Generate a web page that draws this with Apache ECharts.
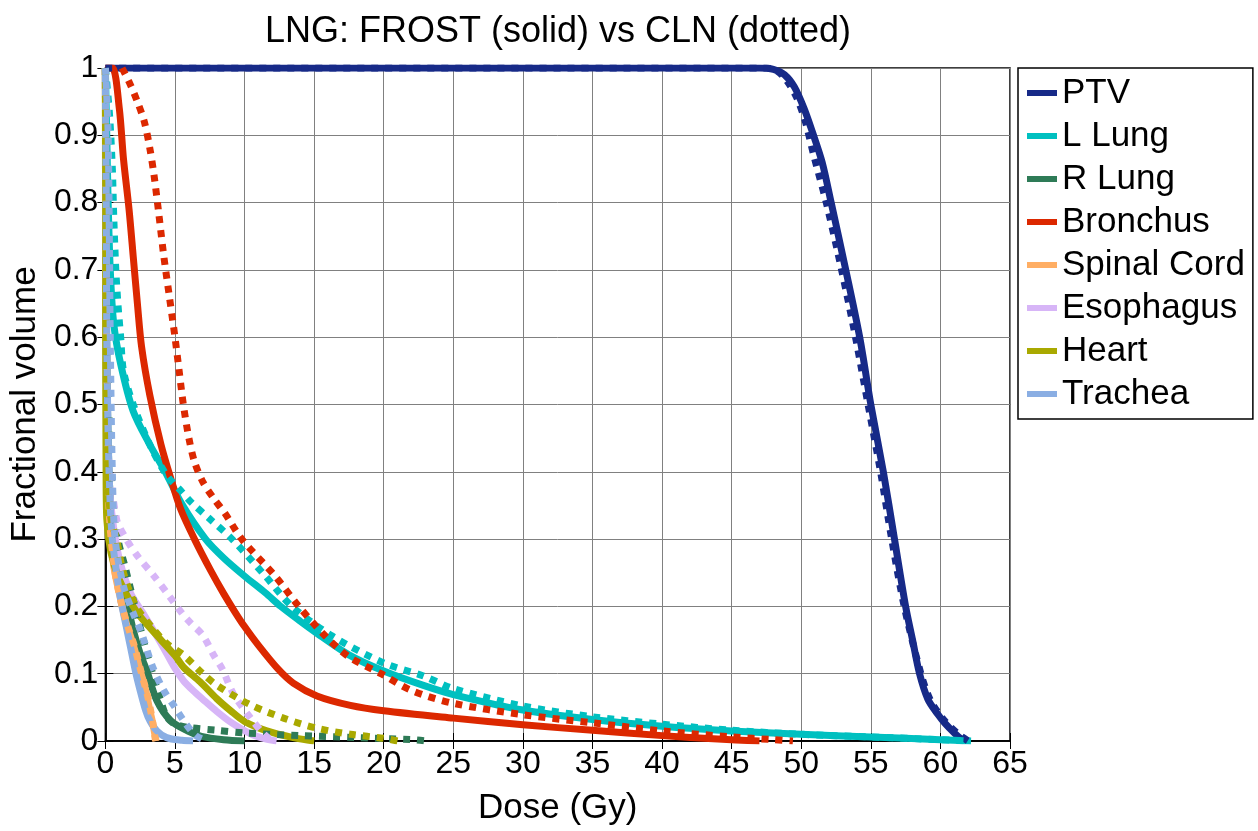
<!DOCTYPE html>
<html>
<head>
<meta charset="utf-8">
<script src="https://cdn.jsdelivr.net/npm/echarts@6/dist/echarts.min.js"></script>
<style>
html,body{margin:0;padding:0;background:#fff;}
#chart{width:1258px;height:831px;}
</style>
</head>
<body>
<div id="chart"></div>
<script>
// ---- Data (dose Gy, fractional volume) ----
const organNames = ['PTV','L Lung','R Lung','Bronchus','Spinal Cord','Esophagus','Heart','Trachea'];
const organColors = ['#172a88','#00c0c0','#2e7b57','#dc2800','#ffae64','#d7b5f7','#a9a900','#8aaee3'];

const xTicks = [0,5,10,15,20,25,30,35,40,45,50,55,60,65];
const yTicks = [0,0.1,0.2,0.3,0.4,0.5,0.6,0.7,0.8,0.9,1];

// FROST (solid)
const ptvSolid = [[0,1],[47,1],[48,0.998],[48.8,0.99],[49.5,0.972],[50.2,0.94],[50.8,0.905],[51.5,0.86],[52.15,0.8],[53.2,0.7],[54.2,0.6],[55,0.5],[55.9,0.4],[56.7,0.3],[57.5,0.2],[58,0.15],[58.5,0.1],[59.1,0.062],[59.8,0.04],[60.3,0.027],[61,0.012],[61.5,0.003],[61.8,0]];
const lLungSolid = [[0,1],[0.1,0.9],[0.2,0.8],[0.35,0.7],[0.6,0.62],[1.1,0.56],[2,0.49],[3.2,0.44],[4.3,0.4],[5.5,0.352],[7.2,0.3],[8.5,0.272],[10,0.245],[11.5,0.22],[12.6,0.2],[14,0.178],[15.2,0.16],[17.5,0.128],[20,0.104],[22.8,0.083],[25,0.069],[30,0.046],[35,0.032],[40,0.022],[45,0.015],[50,0.01],[55,0.006],[60,0.002],[62.2,0]];
const rLungSolid = [[0,1],[0.05,0.7],[0.15,0.5],[0.3,0.38],[0.6,0.3],[1.1,0.24],[1.5,0.21],[2,0.165],[2.5,0.13],[3,0.103],[3.7,0.06],[4.7,0.03],[5.9,0.015],[6.9,0.007],[8.5,0.002],[10,0]];
const bronchusSolid = [[0,1],[0.5,1],[1.0,0.94],[1.3,0.865],[1.7,0.79],[2.0,0.72],[2.3,0.65],[2.6,0.586],[3.2,0.513],[4.0,0.44],[4.7,0.39],[5.4,0.345],[6.4,0.3],[7.6,0.252],[8.5,0.219],[9.3,0.192],[10,0.17],[11,0.142],[12.4,0.107],[13.5,0.086],[15.2,0.067],[17.6,0.053],[20,0.045],[25,0.034],[30,0.024],[35,0.016],[40,0.008],[44,0.003],[47,0]];
const cordSolid = [[0,1],[0.05,0.7],[0.15,0.45],[0.3,0.33],[0.6,0.26],[1.1,0.21],[1.5,0.175],[2,0.143],[2.5,0.105],[2.9,0.075],[3.2,0.045],[3.4,0.027],[3.55,0.01],[3.65,0]];
const esophSolid = [[0,1],[0.05,0.6],[0.15,0.45],[0.4,0.35],[1,0.27],[1.8,0.22],[2.7,0.19],[4,0.145],[5,0.108],[5.6,0.09],[6.3,0.075],[7,0.062],[8,0.044],[9,0.028],[10.4,0.011],[11.5,0.003],[12.3,0]];
const heartSolid = [[0,1],[0.02,0.6],[0.05,0.4],[0.1,0.33],[0.4,0.28],[1,0.24],[2,0.2],[2.7,0.18],[4,0.15],[5,0.127],[5.6,0.11],[6.8,0.088],[8,0.063],[9,0.045],[10,0.029],[11.6,0.015],[13.5,0.005],[15,0]];
const tracheaSolid = [[0,1],[0.05,0.8],[0.1,0.6],[0.2,0.45],[0.35,0.35],[0.5,0.3],[0.8,0.25],[1.1,0.21],[1.5,0.17],[1.8,0.14],[2.2,0.1],[2.5,0.075],[2.9,0.045],[3.2,0.03],[3.7,0.015],[4.4,0.005],[5.5,0.001],[6.3,0]];

// CLN (dotted)
const ptvDotted = [[0,1],[47.5,1],[48.3,0.995],[49,0.98],[49.7,0.955],[50.3,0.92],[50.9,0.87],[51.8,0.8],[52.9,0.7],[53.9,0.6],[54.8,0.5],[55.7,0.4],[56.5,0.3],[57.4,0.2],[58.6,0.1],[59.3,0.06],[60.3,0.03],[61.3,0.01],[62,0]];
const lLungDotted = [[0,1],[0.3,0.93],[0.5,0.85],[0.6,0.78],[0.75,0.7],[0.9,0.65],[1.1,0.6],[1.3,0.55],[2,0.5],[3.2,0.44],[4.4,0.395],[5.5,0.37],[6.2,0.354],[7.5,0.33],[9.1,0.3],[11.5,0.245],[13.4,0.2],[16.3,0.156],[20,0.116],[22.8,0.097],[25,0.078],[30,0.052],[35,0.036],[40,0.025],[45,0.016],[50,0.01],[55,0.006],[60,0.002],[62,0]];
const rLungDotted = [[0,1],[0.1,0.7],[0.25,0.5],[0.5,0.37],[0.9,0.3],[1.4,0.26],[2,0.21],[2.8,0.145],[3.4,0.1],[3.9,0.065],[4.4,0.036],[5,0.025],[6,0.02],[8,0.016],[10,0.012],[14,0.008],[18,0.005],[22,0.002],[23,0]];
const bronchusDotted = [[1.2,1],[1.8,0.975],[2.3,0.95],[2.8,0.92],[3.2,0.88],[3.5,0.84],[3.8,0.79],[4.2,0.72],[4.6,0.66],[5.0,0.6],[5.3,0.55],[5.6,0.5],[6.0,0.45],[6.4,0.415],[7,0.385],[7.8,0.36],[8.6,0.338],[9.8,0.3],[12.2,0.245],[13.9,0.2],[15.8,0.156],[17.5,0.125],[19.8,0.1],[22,0.075],[25,0.056],[30,0.039],[35,0.027],[40,0.015],[45,0.006],[48,0.002],[49.4,0]];
const cordDotted = [[0,1],[0.05,0.7],[0.15,0.45],[0.3,0.33],[0.7,0.25],[1.2,0.2],[1.7,0.165],[2.1,0.14],[2.6,0.1],[3,0.07],[3.3,0.04],[3.5,0.015],[3.6,0]];
const esophDotted = [[0,1],[0.1,0.6],[0.3,0.42],[0.8,0.33],[1.5,0.3],[2.3,0.275],[3.5,0.245],[4.6,0.215],[5.5,0.19],[6.1,0.176],[7,0.157],[7.8,0.127],[8.4,0.107],[9.2,0.07],[10.4,0.035],[11.4,0.01],[12,0]];
const heartDotted = [[0,1],[0.05,0.6],[0.15,0.4],[0.4,0.33],[0.8,0.3],[1.3,0.25],[2.2,0.2],[3.3,0.17],[4.4,0.145],[5.6,0.128],[7,0.1],[8,0.083],[10.4,0.054],[12.8,0.034],[15.2,0.019],[17.6,0.01],[20,0.004],[21,0]];
const tracheaDotted = [[0,1],[0.2,0.9],[0.35,0.6],[0.5,0.4],[0.7,0.3],[1.3,0.23],[2,0.19],[2.6,0.16],[3.4,0.11],[4.2,0.075],[5,0.05],[5.8,0.025],[6.5,0.008],[7.3,0]];

const solidData = [ptvSolid,lLungSolid,rLungSolid,bronchusSolid,cordSolid,esophSolid,heartSolid,tracheaSolid];
const dottedData = [ptvDotted,lLungDotted,rLungDotted,bronchusDotted,cordDotted,esophDotted,heartDotted,tracheaDotted];

const FONT = 'Liberation Sans, Arial, sans-serif';
const chart = echarts.init(document.getElementById('chart'), null, {renderer:'canvas'});

const series = [];
organNames.forEach((n,i)=>{
  series.push({name:n,type:'line',data:solidData[i],showSymbol:false,symbol:'none',smooth:0.3,
    lineStyle:{color:organColors[i],width:7,cap:'butt',join:'round'},itemStyle:{color:organColors[i]},z:2});
});
organNames.forEach((n,i)=>{
  series.push({name:n+' (CLN)',type:'line',data:dottedData[i],showSymbol:false,symbol:'none',smooth:0.3,
    lineStyle:{color:organColors[i],width:7,type:[7,7],cap:'butt',join:'miter'},itemStyle:{color:organColors[i]},z:3});
});

const fmtY = v => String(Math.round(v*10)/10);

chart.setOption({
  animation:false,
  backgroundColor:'#fff',
  title:{text:'LNG: FROST (solid) vs CLN (dotted)',left:553,top:9,textAlign:'center',
    textStyle:{fontFamily:FONT,fontSize:36,fontWeight:'normal',color:'#000'}},
  grid:{left:100,right:248,top:68,bottom:81,show:true,borderColor:'#000',borderWidth:1.5,backgroundColor:'#fff'},
  legend:{data:organNames,orient:'vertical',left:1018,top:68,padding:[7,8,7,9],itemGap:7,
    icon:'rect',itemWidth:30,itemHeight:6,borderColor:'#000',borderWidth:1.5,backgroundColor:'#fff',
    textStyle:{fontFamily:FONT,fontSize:35,color:'#000',lineHeight:36,padding:[0,0,0,0]}},
  xAxis:[{type:'value',min:0,max:65,interval:5,name:'Dose (Gy)',nameLocation:'middle',nameGap:50,
    nameTextStyle:{fontFamily:FONT,fontSize:35,color:'#000'},
    axisLine:{show:true,lineStyle:{color:'#000',width:1.5}},
    axisTick:{show:true,inside:true,length:8,lineStyle:{color:'#000'}},
    axisLabel:{fontFamily:FONT,fontSize:32,color:'#000',margin:7},
    splitLine:{show:true,lineStyle:{color:'#808080',width:1}}},
    {type:'value',position:'top',min:0,max:65,interval:5,axisLine:{show:true,lineStyle:{color:'#000',width:1.5}},
    axisTick:{show:true,inside:true,length:8,lineStyle:{color:'#000'}},axisLabel:{show:false},splitLine:{show:false}}],
  yAxis:[{type:'value',min:0,max:1,interval:0.1,name:'Fractional volume',nameLocation:'middle',nameGap:60,
    nameTextStyle:{fontFamily:FONT,fontSize:35,color:'#000'},
    axisLine:{show:true,lineStyle:{color:'#000',width:1.5}},
    axisTick:{show:true,inside:true,length:8,lineStyle:{color:'#000'}},
    axisLabel:{fontFamily:FONT,fontSize:32,color:'#000',margin:7,formatter:fmtY},
    splitLine:{show:true,lineStyle:{color:'#808080',width:1}}},
    {type:'value',position:'right',min:0,max:1,interval:0.1,axisLine:{show:true,lineStyle:{color:'#000',width:1.5}},
    axisTick:{show:true,inside:true,length:8,lineStyle:{color:'#000'}},axisLabel:{show:false},splitLine:{show:false}}],
  series:series
});
</script>
</body>
</html>
